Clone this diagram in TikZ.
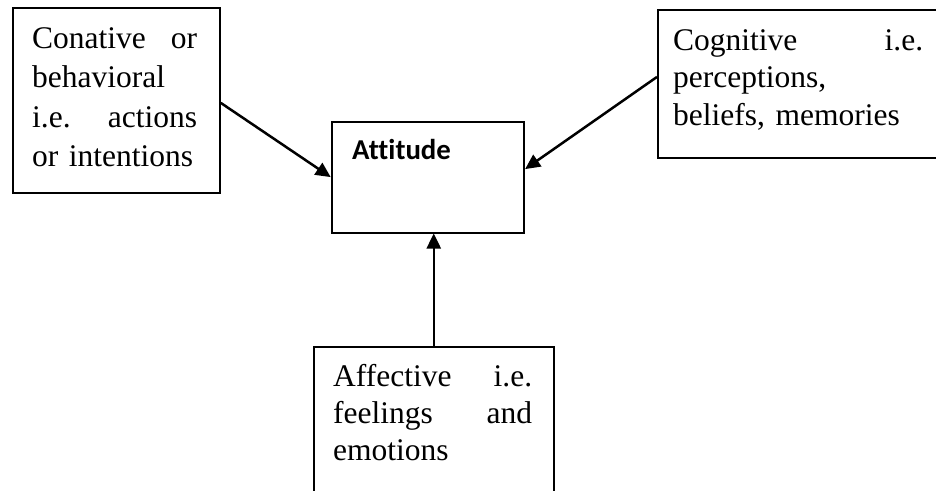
\documentclass[tikz,border=0pt]{standalone}
\usepackage{fontspec}
\setmainfont{Liberation Serif}
\newfontfamily\calib[Ligatures=CommonOff]{Carlito}
\usetikzlibrary{arrows.meta}
\begin{document}
\begin{tikzpicture}[x=1pt,y=-1pt,
  boxnode/.style={draw=black, line width=1.8pt, inner sep=0pt, anchor=north west},
  txt/.style={inner sep=0pt, anchor=base west, font=\fontsize{31.5}{#1}\selectfont},
  conn/.style={line width=2.5pt, -{Triangle[length=15pt,width=14pt]}}]
\useasboundingbox (0,0) rectangle (936,490);
% boxes
\node[boxnode, minimum width=207.3pt, minimum height=185pt] (conB) at (11.7,7) {};
\node[boxnode, minimum width=192.6pt, minimum height=111pt] (attB) at (330.7,120.7) {};
\node[boxnode, minimum width=290pt, minimum height=148pt] (cogB) at (657,9) {};
\node[boxnode, minimum width=240.3pt, minimum height=160pt] (affB) at (312.7,346) {};
% texts
\node[txt=39.6, text width=165pt] (conT) at (32,48)
  {Conative\hfill or\\behavioral\\i.e.\hfill actions\\or intentions};
\node[txt=37.7, text width=250pt] (cogT) at (673,50)
  {Cognitive\hfill i.e.\\perceptions,\\beliefs, memories};
\node[txt=36.7, text width=199pt] (affT) at (333,386.7)
  {Affective\hfill i.e.\\feelings\hfill and\\emotions};
\node[inner sep=0pt, anchor=base west, font=\calib\bfseries\fontsize{28.8}{34}\selectfont] (attT) at (352,159) {Attitude};
% connectors
\draw[conn] ([yshift=-2.5pt]conB.east) -- (attB.west);
\draw[conn] ([yshift=7pt]cogB.west) -- ([yshift=8pt]attB.east);
\draw[conn] (affB.north) -- (attB.south -| affB.north);
\end{tikzpicture}
\end{document}
